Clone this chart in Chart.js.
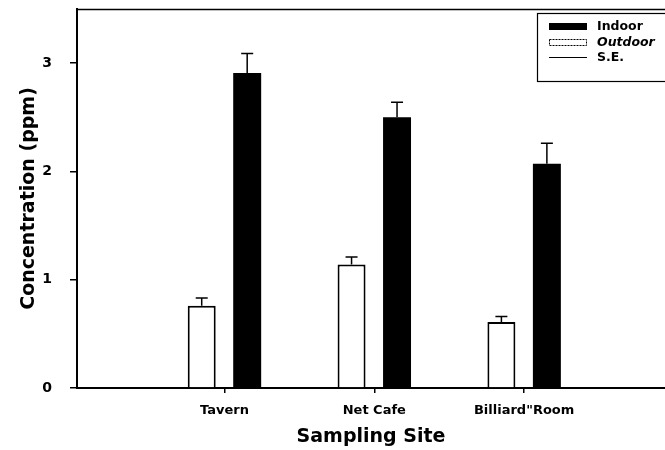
<!DOCTYPE html>
<html><head><meta charset="utf-8">
<script src="https://cdn.jsdelivr.net/npm/chart.js@4/dist/chart.umd.min.js"></script>
<style>html,body{margin:0;padding:0;background:#fff}</style>
</head><body>
<canvas id="c" width="665" height="450"></canvas>
<script>
const categories = ['Tavern', 'Net Cafe', 'Billiard"Room'];
const categoryPositions = [1, 2, 3];
const outdoorValues = [0.76, 1.14, 0.61];
const outdoorSE = [0.07, 0.07, 0.05];
const indoorValues = [2.91, 2.50, 2.07];
const indoorSE = [0.18, 0.14, 0.19];
const yTickValues = [0, 1, 2, 3];
const legendLabels = ['Indoor', 'Outdoor', 'S.E.'];

const FONT = 'DejaVu Sans';

const errorBars = {
  id: 'errorBars',
  afterDatasetsDraw(chart) {
    const ctx = chart.ctx, ys = chart.scales.y;
    chart.data.datasets.forEach((ds, di) => {
      const meta = chart.getDatasetMeta(di);
      meta.data.forEach((el, i) => {
        const v = ds.data[i].y, se = ds.se[i];
        const y0 = ys.getPixelForValue(v), y1 = ys.getPixelForValue(v + se);
        ctx.save();
        ctx.strokeStyle = '#000';
        ctx.lineWidth = 1.5;
        ctx.beginPath();
        ctx.moveTo(el.x, y0); ctx.lineTo(el.x, y1);
        ctx.moveTo(el.x - 6, y1); ctx.lineTo(el.x + 6, y1);
        ctx.stroke();
        ctx.restore();
      });
    });
  }
};

const frameAndLegend = {
  id: 'frameAndLegend',
  afterDraw(chart) {
    const ctx = chart.ctx, a = chart.chartArea;
    ctx.save();
    ctx.strokeStyle = '#000';
    ctx.lineWidth = 1.5;
    ctx.beginPath();
    ctx.moveTo(a.left, a.top + 0.5); ctx.lineTo(a.right, a.top + 0.5);
    ctx.stroke();
    // legend box
    ctx.lineWidth = 1.2;
    ctx.strokeRect(537.5, 13.5, 140, 68);
    // Indoor swatch
    ctx.fillStyle = '#000';
    ctx.fillRect(549, 23, 38, 7);
    // Outdoor swatch
    ctx.fillStyle = '#fff';
    ctx.fillRect(549, 39, 38, 7);
    ctx.lineWidth = 1;
    ctx.setLineDash([2, 1]);
    ctx.strokeRect(549.5, 39.5, 37, 6);
    ctx.setLineDash([]);
    // S.E. line
    ctx.beginPath();
    ctx.moveTo(549, 57.5); ctx.lineTo(587, 57.5);
    ctx.stroke();
    ctx.fillStyle = '#000';
    ctx.textBaseline = 'middle';
    ctx.textAlign = 'left';
    ctx.font = 'bold 12.5px "' + FONT + '"';
    ctx.fillText(legendLabels[0], 597, 27);
    ctx.font = 'italic bold 12.5px "' + FONT + '"';
    ctx.fillText(legendLabels[1], 597, 43);
    ctx.font = 'bold 12.5px "' + FONT + '"';
    ctx.fillText(legendLabels[2], 597, 58);
    ctx.restore();
  }
};

new Chart(document.getElementById('c'), {
  type: 'bar',
  data: {
    datasets: [
      {
        label: 'Outdoor',
        data: categoryPositions.map((x, i) => ({ x, y: outdoorValues[i] })),
        se: outdoorSE,
        backgroundColor: '#fff',
        borderColor: '#000',
        borderWidth: 2,
        categoryPercentage: 0.607,
        barPercentage: 0.615
      },
      {
        label: 'Indoor',
        data: categoryPositions.map((x, i) => ({ x, y: indoorValues[i] })),
        se: indoorSE,
        backgroundColor: '#000',
        borderColor: '#000',
        borderWidth: 0,
        categoryPercentage: 0.607,
        barPercentage: 0.615
      }
    ]
  },
  options: {
    responsive: false,
    animation: false,
    layout: { padding: { top: 9, left: 0, right: 0, bottom: 0 } },
    plugins: { legend: { display: false }, tooltip: { enabled: false } },
    scales: {
      x: {
        type: 'linear',
        min: 0.016,
        max: 3.94,
        offset: false,
        afterBuildTicks: s => { s.ticks = categoryPositions.map(v => ({ value: v })); },
        afterFit: s => { s.height = 62; s.paddingLeft = 0; s.paddingRight = 0; },
        grid: { display: true, drawOnChartArea: false, drawTicks: true, tickLength: 5, color: '#000', lineWidth: 1.5, offset: false },
        border: { display: true, color: '#000', width: 2 },
        ticks: {
          color: '#000',
          padding: 10,
          autoSkip: false,
          maxRotation: 0,
          font: { family: FONT, weight: 'bold', size: 13 },
          callback: v => { const i = categoryPositions.indexOf(v); return i >= 0 ? categories[i] : ''; }
        },
        title: {
          display: true,
          text: 'Sampling Site',
          color: '#000',
          font: { family: FONT, weight: 'bold', size: 19 },
          padding: { top: 0, bottom: 2 }
        }
      },
      y: {
        min: 0,
        max: 3.5,
        afterBuildTicks: s => { s.ticks = yTickValues.map(v => ({ value: v })); },
        afterFit: s => { s.width = 77; s.paddingTop = 0; s.paddingBottom = 0; },
        grid: { display: true, drawOnChartArea: false, drawTicks: true, tickLength: 7, color: '#000', lineWidth: 1.5 },
        border: { display: true, color: '#000', width: 2 },
        ticks: {
          color: '#000',
          padding: 18,
          font: { family: FONT, weight: 'bold', size: 14 },
          callback: v => String(v)
        },
        title: {
          display: true,
          text: 'Concentration (ppm)',
          color: '#000',
          font: { family: FONT, weight: 'bold', size: 19 },
          padding: { top: 18, bottom: 0 }
        }
      }
    }
  },
  plugins: [errorBars, frameAndLegend]
});
</script>
</body></html>
